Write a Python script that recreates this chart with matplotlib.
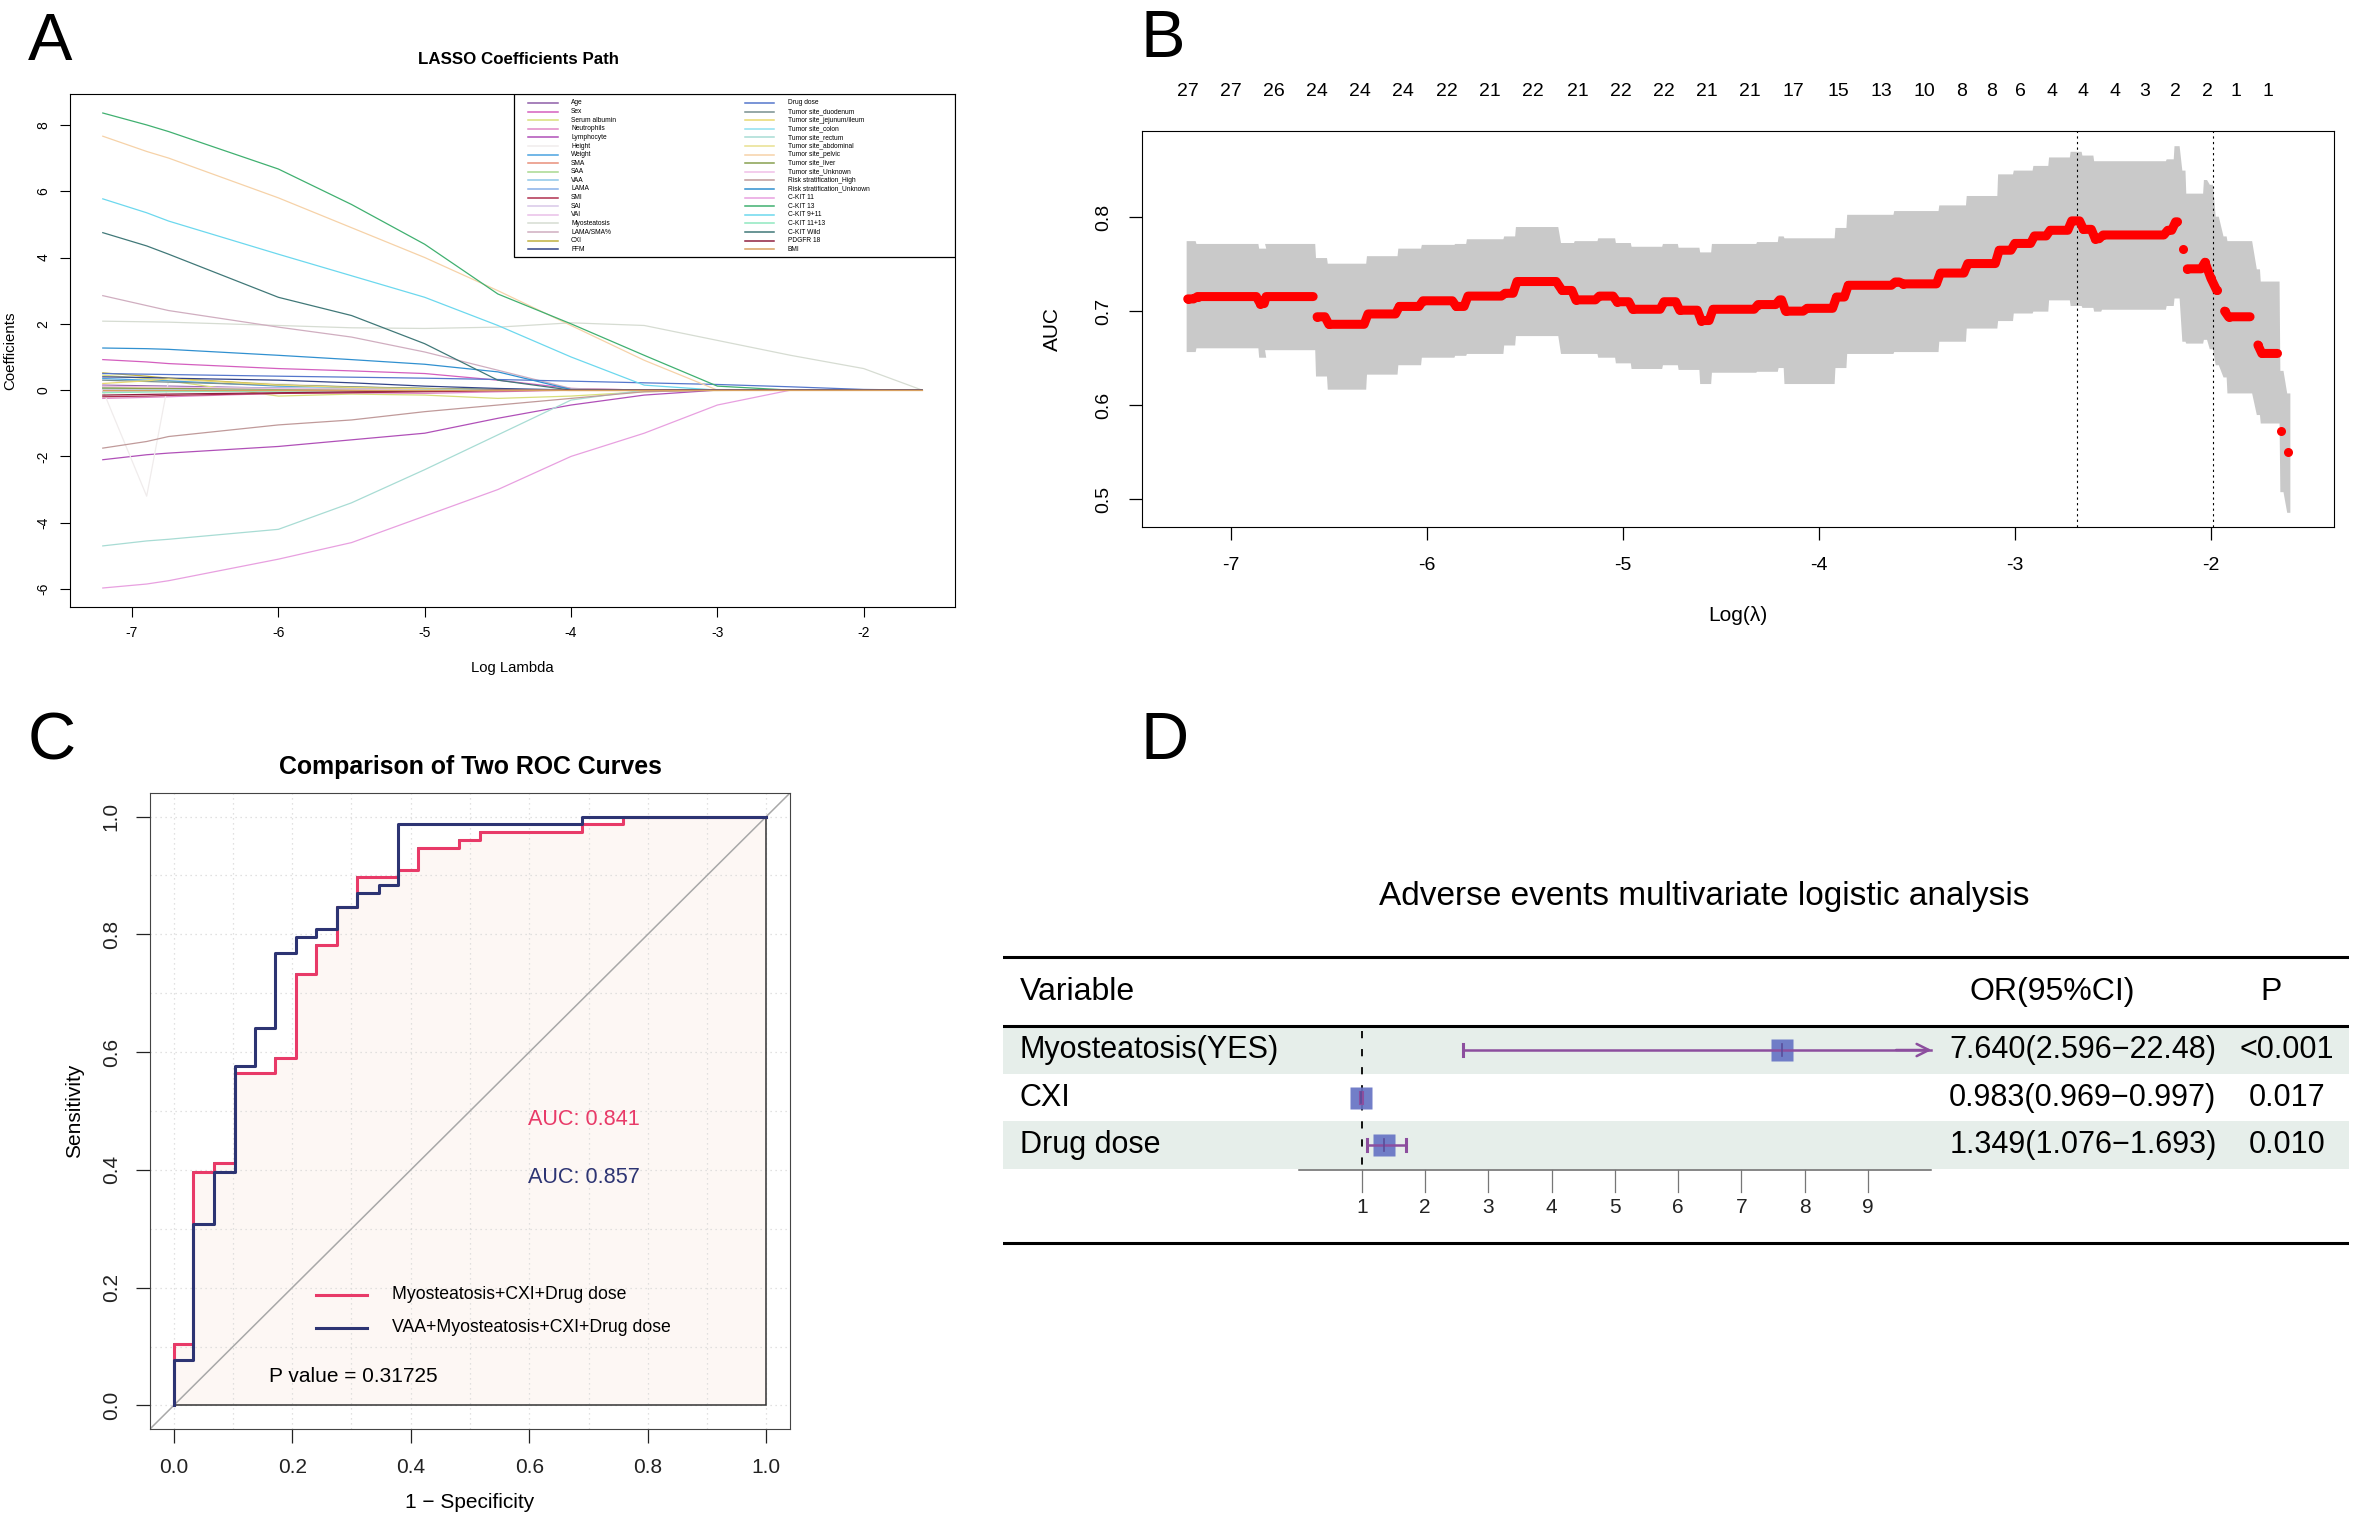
import numpy as np
import matplotlib.pyplot as plt
from matplotlib.patches import Rectangle, Polygon

plt.rcParams['font.family'] = ['Liberation Sans', 'DejaVu Sans']
plt.rcParams['axes.unicode_minus'] = False

# ---------------- A: LASSO coefficient paths ----------------
lasso_loglam = [-7.2, -6.9, -6.75, -6.0, -5.5, -5.0, -4.5, -4.0, -3.5, -3.0, -2.5, -2.0, -1.6]

c_age = [0.15, 0.13, 0.12, 0.06, 0.03, 0.01, 0, 0, 0, 0, 0, 0, 0]
c_sex = [0.92, 0.85, 0.80, 0.65, 0.58, 0.50, 0.30, 0.05, 0, 0, 0, 0, 0]
c_albumin = [0.45, 0.35, 0.28, -0.18, -0.12, -0.15, -0.25, -0.18, -0.05, 0, 0, 0, 0]
c_neutro = [-0.25, -0.22, -0.20, -0.10, -0.08, -0.10, -0.05, 0, 0, 0, 0, 0, 0]
c_lympho = [-2.10, -1.95, -1.90, -1.70, -1.50, -1.30, -0.85, -0.45, -0.15, 0, 0, 0, 0]
c_height = [0.0, -3.20, 0.30, 0.20, 0.10, 0.05, 0, 0, 0, 0, 0, 0, 0]
c_weight = [0.35, 0.30, 0.28, 0.12, 0.08, 0.05, 0.02, 0, 0, 0, 0, 0, 0]
c_sma = [0.05, 0.04, 0.04, 0.02, 0.01, 0, 0, 0, 0, 0, 0, 0, 0]
c_saa = [-0.05, -0.04, -0.03, -0.02, -0.01, 0, 0, 0, 0, 0, 0, 0, 0]
c_vaa = [0.10, 0.09, 0.08, 0.06, 0.05, 0.04, 0.03, 0.02, 0.01, 0, 0, 0, 0]
c_lama = [0.08, 0.07, 0.06, 0.03, 0.02, 0.01, 0, 0, 0, 0, 0, 0, 0]
c_smi = [-0.20, -0.18, -0.16, -0.10, -0.08, -0.05, -0.02, 0, 0, 0, 0, 0, 0]
c_sai = [0.02, 0.02, 0.02, 0.01, 0, 0, 0, 0, 0, 0, 0, 0, 0]
c_vai = [-0.03, -0.03, -0.02, -0.01, 0, 0, 0, 0, 0, 0, 0, 0, 0]
c_myo = [2.08, 2.06, 2.05, 1.95, 1.88, 1.86, 1.90, 2.03, 1.95, 1.50, 1.05, 0.65, 0]
c_lama_sma = [2.85, 2.55, 2.40, 1.90, 1.60, 1.15, 0.60, 0.05, 0, 0, 0, 0, 0]
c_cxi = [0.52, 0.42, 0.36, 0.16, 0.09, 0.05, 0.02, -0.01, -0.01, -0.01, 0, 0, 0]
c_ffm = [0.40, 0.38, 0.36, 0.30, 0.22, 0.12, 0.05, 0, 0, 0, 0, 0, 0]
c_drug = [0.50, 0.48, 0.47, 0.42, 0.39, 0.36, 0.32, 0.27, 0.22, 0.17, 0.10, 0.02, 0]
c_duod = [0.30, 0.26, 0.24, 0.15, 0.10, 0.05, 0.02, 0, 0, 0, 0, 0, 0]
c_jej = [0.20, 0.28, 0.34, 0.15, 0.08, 0.04, 0, 0, 0, 0, 0, 0, 0]
c_colon = [0.05, 0.04, 0.04, 0.03, 0.02, 0.01, 0, 0, 0, 0, 0, 0, 0]
c_rectum = [-4.70, -4.55, -4.50, -4.20, -3.40, -2.40, -1.35, -0.30, 0, 0, 0, 0, 0]
c_abdom = [0.10, 0.08, 0.07, 0.04, 0.02, 0, 0, 0, 0, 0, 0, 0, 0]
c_pelvic = [7.66, 7.20, 7.00, 5.80, 4.90, 4.00, 3.00, 1.95, 0.90, 0, 0, 0, 0]
c_liver = [0.06, 0.05, 0.05, 0.03, 0.02, 0.01, 0, 0, 0, 0, 0, 0, 0]
c_site_unk = [0.12, 0.10, 0.09, 0.05, 0.03, 0.01, 0, 0, 0, 0, 0, 0, 0]
c_risk_high = [-1.75, -1.55, -1.40, -1.05, -0.90, -0.65, -0.45, -0.25, -0.05, 0, 0, 0, 0]
c_risk_unk = [1.27, 1.25, 1.23, 1.05, 0.92, 0.78, 0.55, 0.02, 0, 0, 0, 0, 0]
c_kit11 = [-5.97, -5.85, -5.75, -5.10, -4.60, -3.80, -3.00, -2.00, -1.30, -0.45, 0, 0, 0]
c_kit13 = [8.36, 8.00, 7.80, 6.67, 5.60, 4.40, 2.90, 2.00, 1.05, 0.12, 0, 0, 0]
c_kit9_11 = [5.77, 5.35, 5.10, 4.10, 3.45, 2.80, 1.95, 1.00, 0.15, 0, 0, 0, 0]
c_kit11_13 = [-0.08, -0.06, -0.05, -0.03, -0.02, 0, 0, 0, 0, 0, 0, 0, 0]
c_kit_wild = [4.75, 4.35, 4.10, 2.80, 2.25, 1.40, 0.30, 0, 0, 0, 0, 0, 0]
c_pdgfr = [-0.15, -0.13, -0.12, -0.08, -0.05, -0.03, 0, 0, 0, 0, 0, 0, 0]
c_bmi = [0, 0, 0, 0, 0, 0, 0, 0, 0, 0, 0, 0, 0]

lasso_names = ["Age", "Sex", "Serum albumin", "Neutrophils", "Lymphocyte", "Height", "Weight",
               "SMA", "SAA", "VAA", "LAMA", "SMI", "SAI", "VAI", "Myosteatosis", "LAMA/SMA%",
               "CXI", "FFM", "Drug dose", "Tumor site_duodenum", "Tumor site_jejunum/ileum",
               "Tumor site_colon", "Tumor site_rectum", "Tumor site_abdominal", "Tumor site_pelvic",
               "Tumor site_liver", "Tumor site_Unknown", "Risk stratification_High",
               "Risk stratification_Unknown", "C-KIT 11", "C-KIT 13", "C-KIT 9+11", "C-KIT 11+13",
               "C-KIT Wild", "PDGFR 18", "BMI"]
lasso_coefs = [c_age, c_sex, c_albumin, c_neutro, c_lympho, c_height, c_weight, c_sma, c_saa,
               c_vaa, c_lama, c_smi, c_sai, c_vai, c_myo, c_lama_sma, c_cxi, c_ffm, c_drug,
               c_duod, c_jej, c_colon, c_rectum, c_abdom, c_pelvic, c_liver, c_site_unk,
               c_risk_high, c_risk_unk, c_kit11, c_kit13, c_kit9_11, c_kit11_13, c_kit_wild,
               c_pdgfr, c_bmi]
lasso_colors = ["#8E5EA8", "#D45FBF", "#D8DF7A", "#E089C8", "#B050B8", "#F0ECEC", "#4AA3E0",
                "#E8907A", "#A8D890", "#8EC6E8", "#88B0E8", "#B03050", "#D8C8E8", "#EAC0E8",
                "#D6DCD2", "#D0AEC0", "#C0B040", "#334488", "#5577CC", "#789090", "#E8D870",
                "#90E0F0", "#A8DCD4", "#E8E090", "#F6D2A8", "#88A050", "#F0C0E8", "#C09A9A",
                "#3090D0", "#E8A0E0", "#40B070", "#6CD8EE", "#90E8C0", "#407878", "#902040",
                "#D8A060"]

# ---------------- B: cross-validated AUC ----------------
cv_x0 = [-7.22, -7.17, -6.85, -6.82, -6.56, -6.50, -6.30, -6.14, -6.02, -5.85, -5.79, -5.60, -5.54,
         -5.31, -5.24, -5.12, -5.03, -4.95, -4.79, -4.71, -4.60, -4.54, -4.31, -4.20, -4.17, -4.06,
         -3.91, -3.85, -3.61, -3.57, -3.38, -3.24, -3.08, -3.00, -2.90, -2.82, -2.71, -2.65, -2.59,
         -2.55, -2.22, -2.18, -2.14, -2.12, -2.03, -2.00, -1.97, -1.93, -1.91, -1.76, -1.74, -1.64,
         -1.605]
cv_x1 = [-7.19, -6.87, -6.83, -6.58, -6.52, -6.32, -6.16, -6.04, -5.87, -5.81, -5.62, -5.56, -5.34,
         -5.26, -5.14, -5.05, -4.97, -4.81, -4.73, -4.62, -4.56, -4.33, -4.22, -4.19, -4.08, -3.93,
         -3.87, -3.63, -3.59, -3.40, -3.26, -3.10, -3.02, -2.92, -2.84, -2.73, -2.67, -2.61, -2.57,
         -2.24, -2.20, -2.17, -2.14, -2.05, -2.03, -2.00, -1.97, -1.93, -1.80, -1.76, -1.66, -1.64,
         -1.605]
cv_auc = [0.713, 0.7155, 0.708, 0.7155, 0.694, 0.686, 0.697, 0.705, 0.711, 0.705, 0.716, 0.719, 0.7315,
          0.722, 0.712, 0.716, 0.710, 0.702, 0.710, 0.701, 0.690, 0.702, 0.707, 0.712, 0.700, 0.703,
          0.715, 0.7275, 0.731, 0.729, 0.7405, 0.7506, 0.7648, 0.772, 0.780, 0.786, 0.796, 0.787, 0.777,
          0.781, 0.786, 0.795, 0.766, 0.745, 0.752, 0.735, 0.722, 0.700, 0.694, 0.664, 0.655, 0.572,
          0.550]
cv_lo = [0.657, 0.661, 0.651, 0.659, 0.631, 0.617, 0.633, 0.643, 0.651, 0.653, 0.655, 0.664, 0.674,
         0.655, 0.655, 0.651, 0.645, 0.639, 0.643, 0.638, 0.623, 0.635, 0.636, 0.640, 0.623, 0.623,
         0.640, 0.655, 0.657, 0.657, 0.668, 0.682, 0.690, 0.698, 0.700, 0.712, 0.706, 0.704, 0.700,
         0.702, 0.706, 0.714, 0.668, 0.666, 0.670, 0.660, 0.643, 0.630, 0.613, 0.590, 0.581, 0.508,
         0.486]
cv_hi = [0.775, 0.772, 0.767, 0.772, 0.757, 0.751, 0.759, 0.767, 0.771, 0.772, 0.777, 0.780, 0.790,
         0.773, 0.775, 0.778, 0.773, 0.769, 0.772, 0.768, 0.763, 0.772, 0.774, 0.780, 0.778, 0.778,
         0.789, 0.803, 0.807, 0.807, 0.813, 0.823, 0.846, 0.850, 0.855, 0.864, 0.870, 0.866, 0.860,
         0.860, 0.862, 0.876, 0.850, 0.8255, 0.840, 0.835, 0.801, 0.780, 0.775, 0.745, 0.732, 0.637,
         0.613]
lambda_min_log = -2.685
lambda_1se_log = -1.99
nz_pos = [-7.22, -7.00, -6.78, -6.56, -6.34, -6.12, -5.90, -5.68, -5.46, -5.23, -5.01, -4.79, -4.57,
          -4.35, -4.13, -3.90, -3.68, -3.46, -3.27, -3.12, -2.97, -2.81, -2.65, -2.49, -2.34, -2.18,
          -2.02, -1.87, -1.71]
nz_labels = ["27", "27", "26", "24", "24", "24", "22", "21", "22", "21", "22", "22", "21", "21",
             "17", "15", "13", "10", "8", "8", "6", "4", "4", "4", "3", "2", "2", "1", "1"]

# ---------------- C: ROC curves ----------------
roc1_fpr = [0, 0, 0.033, 0.068, 0.104, 0.171, 0.206, 0.240, 0.276, 0.309, 0.379, 0.412, 0.481,
            0.517, 0.689, 0.759, 1.0]
roc1_tpr = [0, 0.104, 0.397, 0.411, 0.564, 0.590, 0.733, 0.782, 0.846, 0.897, 0.910, 0.947, 0.961,
            0.973, 0.988, 1.0, 1.0]
roc2_fpr = [0, 0, 0.033, 0.068, 0.104, 0.137, 0.171, 0.206, 0.240, 0.276, 0.309, 0.346, 0.379,
            0.689, 1.0]
roc2_tpr = [0, 0.077, 0.308, 0.397, 0.577, 0.641, 0.769, 0.796, 0.809, 0.846, 0.871, 0.884, 0.988,
            1.0, 1.0]
roc_names = ["Myosteatosis+CXI+Drug dose", "VAA+Myosteatosis+CXI+Drug dose"]
roc_auc = [0.841, 0.857]
p_value = 0.31725

# ---------------- D: forest plot ----------------
fp_vars = ["Myosteatosis(YES)", "CXI", "Drug dose"]
fp_or = [7.640, 0.983, 1.349]
fp_lo = [2.596, 0.969, 1.076]
fp_hi = [22.48, 0.997, 1.693]
fp_or_text = ["7.640(2.596\u221222.48)", "0.983(0.969\u22120.997)", "1.349(1.076\u22121.693)"]
fp_p_text = ["<0.001", "0.017", "0.010"]
fp_ticks = [1, 2, 3, 4, 5, 6, 7, 8, 9]

W, H = 2357, 1518
fig = plt.figure(figsize=(W / 100, H / 100), dpi=100)


def box(x0, y0, x1, y1):
    # pixel rectangle (top-left origin) -> figure fraction
    return [x0 / W, 1 - y1 / H, (x1 - x0) / W, (y1 - y0) / H]


# panel letters
for lab, px, py in [("A", 28, 60), ("B", 1140, 57), ("C", 28, 760), ("D", 1140, 759)]:
    fig.text(px / W, 1 - py / H, lab, fontsize=48, va='baseline', ha='left')

# ===== A =====
axA = fig.add_axes(box(70, 94, 955, 607))
for vals, col in zip(lasso_coefs, lasso_colors):
    axA.plot(lasso_loglam, vals, color=col, lw=0.9)
axA.margins(0.04)
axA.set_xticks([-7, -6, -5, -4, -3, -2])
axA.set_yticks([-6, -4, -2, 0, 2, 4, 6, 8])
axA.tick_params(direction='out', length=7, width=0.8, labelsize=10, pad=7)
for t in axA.get_yticklabels():
    t.set_rotation(90)
    t.set_va('center')
axA.set_xlabel("Log Lambda", fontsize=10.7)
axA.xaxis.set_label_coords(0.5, -61 / 513)
axA.xaxis.label.set_va('center')
axA.set_ylabel("Coefficients", fontsize=10.8)
axA.yaxis.set_label_coords(-60 / 885, 0.5)
axA.yaxis.label.set_va('center')
fig.text(518 / W, 1 - 60 / H, "LASSO Coefficients Path", fontsize=12.2, fontweight='bold',
         ha='center', va='center')

# legend box drawn by hand (R style)
axA.add_patch(Rectangle(((514 - 70) / 885, 1 - 163 / 513), 441 / 885, 163 / 513,
                        transform=axA.transAxes, facecolor='white', edgecolor='black',
                        lw=0.9, zorder=3))
for i, (name, col) in enumerate(zip(lasso_names, lasso_colors)):
    c, r = divmod(i, 18)
    py = 103 + r * 8.6
    lx0, lx1, tx = (528, 558, 571) if c == 0 else (745, 774, 788)
    yy = 1 - (py - 94) / 513
    axA.plot([(lx0 - 70) / 885, (lx1 - 70) / 885], [yy, yy], color=col, lw=1.1,
             transform=axA.transAxes, zorder=4)
    axA.text((tx - 70) / 885, yy, name, fontsize=4.8, va='center', ha='left',
             transform=axA.transAxes, zorder=4)

# ===== B =====
axB = fig.add_axes(box(1142, 131, 2334, 527))
w = 0.008
bx, blo, bhi = [], [], []
for x0, x1, lo, hi in zip(cv_x0, cv_x1, cv_lo, cv_hi):
    bx += [x0 - w, x1 + w]
    blo += [lo, lo]
    bhi += [hi, hi]
axB.fill_between(bx, blo, bhi, color='#C9C9C9', lw=0, zorder=1)

# red mean curve, broken where the value jumps
rx, ry = [], []
prev = None
for x0, x1, m in zip(cv_x0, cv_x1, cv_auc):
    if prev is not None and abs(m - prev) > 0.02:
        rx.append(np.nan)
        ry.append(np.nan)
    rx += [x0, x1]
    ry += [m, m]
    prev = m
axB.plot(rx, ry, color='red', lw=6.5, solid_capstyle='round', solid_joinstyle='round', zorder=3)
axB.plot(cv_x0, cv_auc, 'o', color='red', ms=6.5, mec='none', zorder=3)
axB.margins(x=0.04, y=0.04)
axB.axvline(lambda_min_log, color='black', ls=(0, (2, 3)), lw=0.8, zorder=2)
axB.axvline(lambda_1se_log, color='black', ls=(0, (2, 3)), lw=0.8, zorder=2)
for xp, lab in zip(nz_pos, nz_labels):
    axB.text(xp, 1 + 39 / 396, lab, transform=axB.get_xaxis_transform(), ha='center',
             va='center', fontsize=14)
axB.set_xticks([-7, -6, -5, -4, -3, -2])
axB.set_yticks([0.5, 0.6, 0.7, 0.8])
axB.tick_params(direction='out', length=9.5, width=0.9, labelsize=14, pad=12)
for t in axB.get_yticklabels():
    t.set_rotation(90)
    t.set_va('center')
axB.set_xlabel("Log(\u03bb)", fontsize=15)
axB.xaxis.set_label_coords(0.5, -88 / 396)
axB.xaxis.label.set_va('center')
axB.set_ylabel("AUC", fontsize=15)
axB.yaxis.set_label_coords(-90 / 1192, 0.5)
axB.yaxis.label.set_va('center')

# ===== C =====
axC = fig.add_axes(box(150, 793, 790, 1429))
axC.set_xlim(-0.04, 1.04)
axC.set_ylim(-0.04, 1.04)


def steps(x, y):
    sx, sy = [x[0]], [y[0]]
    for i in range(1, len(x)):
        sx += [x[i], x[i]]
        sy += [y[i - 1], y[i]]
    return sx, sy


s1x, s1y = steps(roc1_fpr, roc1_tpr)
s2x, s2y = steps(roc2_fpr, roc2_tpr)
poly = list(zip(s1x, s1y)) + [(1, 0), (0, 0)]
axC.add_patch(Polygon(poly, closed=True, facecolor='#FDF7F4', edgecolor='none', zorder=1))
for g in np.arange(0, 1.01, 0.1):
    axC.axhline(g, color='#D8D8D8', ls=(0, (1, 3)), lw=0.9, zorder=1.5)
    axC.axvline(g, color='#D8D8D8', ls=(0, (1, 3)), lw=0.9, zorder=1.5)
axC.add_patch(Polygon(poly, closed=True, fill=False, edgecolor='#333333', lw=1.1, zorder=1.7))
axC.axline((0, 0), slope=1, color='#A8A8A8', lw=1.1, zorder=1.8)
red_c, navy_c = '#E83A68', '#2D3473'
axC.plot(s1x, s1y, color=red_c, lw=2.2, zorder=3)
axC.plot(s2x, s2y, color=navy_c, lw=2.2, zorder=4)
axC.text(0.598, 0.486, f"AUC: {roc_auc[0]:.3f}", color=red_c, fontsize=15.6, va='center')
axC.text(0.598, 0.387, f"AUC: {roc_auc[1]:.3f}", color=navy_c, fontsize=15.6, va='center')
for yy, col, name in [(0.188, red_c, roc_names[0]), (0.132, navy_c, roc_names[1])]:
    axC.plot([0.24, 0.326], [yy, yy], color=col, lw=2.2)
    axC.text(0.369, yy, name, fontsize=12.7, va='center')
axC.text(0.16, 0.05, f"P value = {p_value}", fontsize=15, va='center')
axC.set_xticks([0, 0.2, 0.4, 0.6, 0.8, 1.0])
axC.set_yticks([0, 0.2, 0.4, 0.6, 0.8, 1.0])
axC.set_xticklabels(["0.0", "0.2", "0.4", "0.6", "0.8", "1.0"])
axC.set_yticklabels(["0.0", "0.2", "0.4", "0.6", "0.8", "1.0"], rotation=90, va='center')
axC.tick_params(direction='out', length=10, width=0.9, labelsize=15, colors='#222222', pad=11)
for s in axC.spines.values():
    s.set_color('#444444')
axC.set_xlabel("1 \u2212 Specificity", fontsize=15)
axC.xaxis.set_label_coords(0.5, -74 / 636)
axC.xaxis.label.set_va('center')
axC.set_ylabel("Sensitivity", fontsize=15)
axC.yaxis.set_label_coords(-75 / 640, 0.5)
axC.yaxis.label.set_va('center')
fig.text(470 / W, 1 - 767 / H, "Comparison of Two ROC Curves", fontsize=17.9, fontweight='bold',
         ha='center', va='center')

# ===== D =====
axD = fig.add_axes(box(1003, 870, 2349, 1250))
axD.set_xlim(-4.676, 16.605)
axD.set_ylim(5.21, -2.79)
axD.axis('off')
tr = axD.get_yaxis_transform()
band = '#E6EEEA'
purple = '#8C4E9E'
rows = [1, 2, 3]
for r in rows:
    if r % 2 == 1:
        axD.axhspan(r - 0.5, r + 0.5, color=band, lw=0, zorder=0)
axD.axhline(-0.958, color='black', lw=2.2)
axD.axhline(0.5, color='black', lw=2.2)
axD.axhline(5.06, color='black', lw=2.2)
fs = 22
axD.text(0.5208, -2.24, "Adverse events multivariate logistic analysis", transform=tr,
         fontsize=24, ha='center', va='center')
axD.text(0.0126, -0.221, "Variable", transform=tr, fontsize=23, va='center')
axD.text(0.718, -0.221, "OR(95%CI)", transform=tr, fontsize=23, va='center')
axD.text(0.942, -0.221, "P", transform=tr, fontsize=23, va='center', ha='center')

# x axis of the forest
axD.plot([0, 10], [3.52, 3.52], color='#666666', lw=1.1)
for t in fp_ticks:
    axD.plot([t, t], [3.52, 3.99], color='#777777', lw=0.9)
    axD.text(t, 4.32, str(t), ha='center', va='center', fontsize=15, color='#222222')
axD.plot([1, 1], [0.6, 3.52], color='black', lw=1.3, ls=(0, (4, 6)), zorder=2)

for r, name, est, lo, hi, ort, pt in zip(rows, fp_vars, fp_or, fp_lo, fp_hi, fp_or_text, fp_p_text):
    axD.plot(est, r, marker='s', ms=16.5, color='#6673C4', mec='none', alpha=0.92, zorder=3)
    right = min(hi, 10)
    axD.plot([lo, right], [r, r], color=purple, lw=1.8, zorder=4)
    axD.plot([lo, lo], [r - 0.12, r + 0.12], color=purple, lw=2.2, zorder=4)
    if hi > 10:
        axD.annotate('', xy=(10.05, r), xytext=(9.4, r),
                     arrowprops=dict(arrowstyle='->', color=purple, lw=1.8, mutation_scale=22),
                     zorder=4)
    else:
        axD.plot([hi, hi], [r - 0.12, r + 0.12], color=purple, lw=2.2, zorder=4)
    axD.plot([est, est], [r - 0.12, r + 0.12], color='#5A4C9A', lw=1.2, zorder=5)
    axD.text(0.0126, r, name, transform=tr, fontsize=fs, va='center')
    axD.text(0.703, r, ort, transform=tr, fontsize=fs, va='center')
    axD.text(0.954, r, pt, transform=tr, fontsize=fs, va='center', ha='center')

fig.savefig("out.png", dpi=100)
